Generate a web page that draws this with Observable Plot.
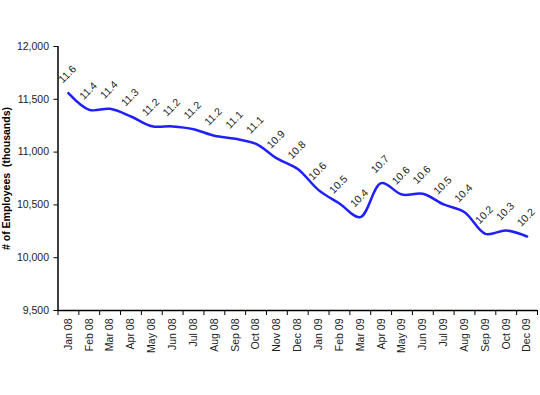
<!DOCTYPE html>
<html>
<head>
<meta charset="utf-8">
<script src="https://cdn.jsdelivr.net/npm/d3@7"></script>
<script src="https://cdn.jsdelivr.net/npm/@observablehq/plot@0.6"></script>
<style>
  html, body { margin: 0; padding: 0; background: #fff; }
  #chart svg { display: block; font-family: Arial, "Liberation Sans", sans-serif; }
</style>
</head>
<body>
<div id="chart"></div>
<script>
// Months shown on the axis (note: Nov 09 is absent in the source)
const months = ["Jan 08","Feb 08","Mar 08","Apr 08","May 08","Jun 08","Jul 08","Aug 08","Sep 08","Oct 08","Nov 08","Dec 08",
                "Jan 09","Feb 09","Mar 09","Apr 09","May 09","Jun 09","Jul 09","Aug 09","Sep 09","Oct 09","Dec 09"];
// Number of employees (thousands)
const employees = [11558, 11400, 11410, 11337, 11245, 11243, 11217, 11155, 11126, 11078, 10940, 10840,
                   10640, 10513, 10384, 10706, 10598, 10605, 10504, 10431, 10226, 10258, 10201];
// Data labels as printed on the chart
const valueLabels = ["11.6","11.4","11.4","11.3","11.2","11.2","11.2","11.2","11.1","11.1","10.9","10.8",
                     "10.6","10.5","10.4","10.7","10.6","10.6","10.5","10.4","10.2","10.3","10.2"];
const yTicks = [9500, 10000, 10500, 11000, 11500, 12000];
const yTitle = "# of Employees\u00a0\u00a0(thousands)";

const data = months.map((m, i) => ({i, month: m, value: employees[i], label: valueLabels[i]}));
const idx = d3.range(months.length);
const edges = d3.range(months.length + 1).map(i => i - 0.5);

const chart = Plot.plot({
  width: 540,
  height: 395,
  marginLeft: 57.5,
  marginRight: 3,
  marginTop: 46,
  marginBottom: 85,
  style: {fontFamily: "Arial, 'Liberation Sans', sans-serif", fontSize: "10.5px", color: "#222", background: "#fff"},
  x: {domain: [edges[0], edges[edges.length - 1]], axis: null},
  y: {domain: [yTicks[0], yTicks[yTicks.length - 1]], axis: null},
  marks: [
    // y axis
    Plot.axisY(yTicks, {tickFormat: d3.format(","), tickSize: 4, tickPadding: 5, label: null, stroke: "#000", fill: "#222"}),
    Plot.ruleX([edges[0]], {stroke: "#000", strokeWidth: 1.5}),
    // x axis: boundary ticks and centred labels
    Plot.axisX(edges, {tickFormat: () => "", tickSize: 5, label: null, stroke: "#000"}),
    Plot.axisX(idx, {tickFormat: i => months[i], tickSize: 0, tickPadding: 8, tickRotate: -90, label: null, fill: "#222"}),
    Plot.ruleY([yTicks[0]], {stroke: "#000", strokeWidth: 1.5}),
    // y title
    Plot.text([yTitle], {frameAnchor: "left", textAnchor: "middle", rotate: -90, dx: -51.5, fontWeight: "bold", fontSize: 10.5, fill: "#000"}),
    // line
    Plot.line(data, {x: "i", y: "value", curve: "catmull-rom", stroke: "#1f1fff", strokeWidth: 2.5}),
    // data labels
    Plot.text(data, {x: "i", y: "value", text: "label", rotate: -45, dy: -19, dx: -1, fontSize: 10.5, fill: "#222"})
  ]
});
document.getElementById("chart").appendChild(chart);
</script>
</body>
</html>
